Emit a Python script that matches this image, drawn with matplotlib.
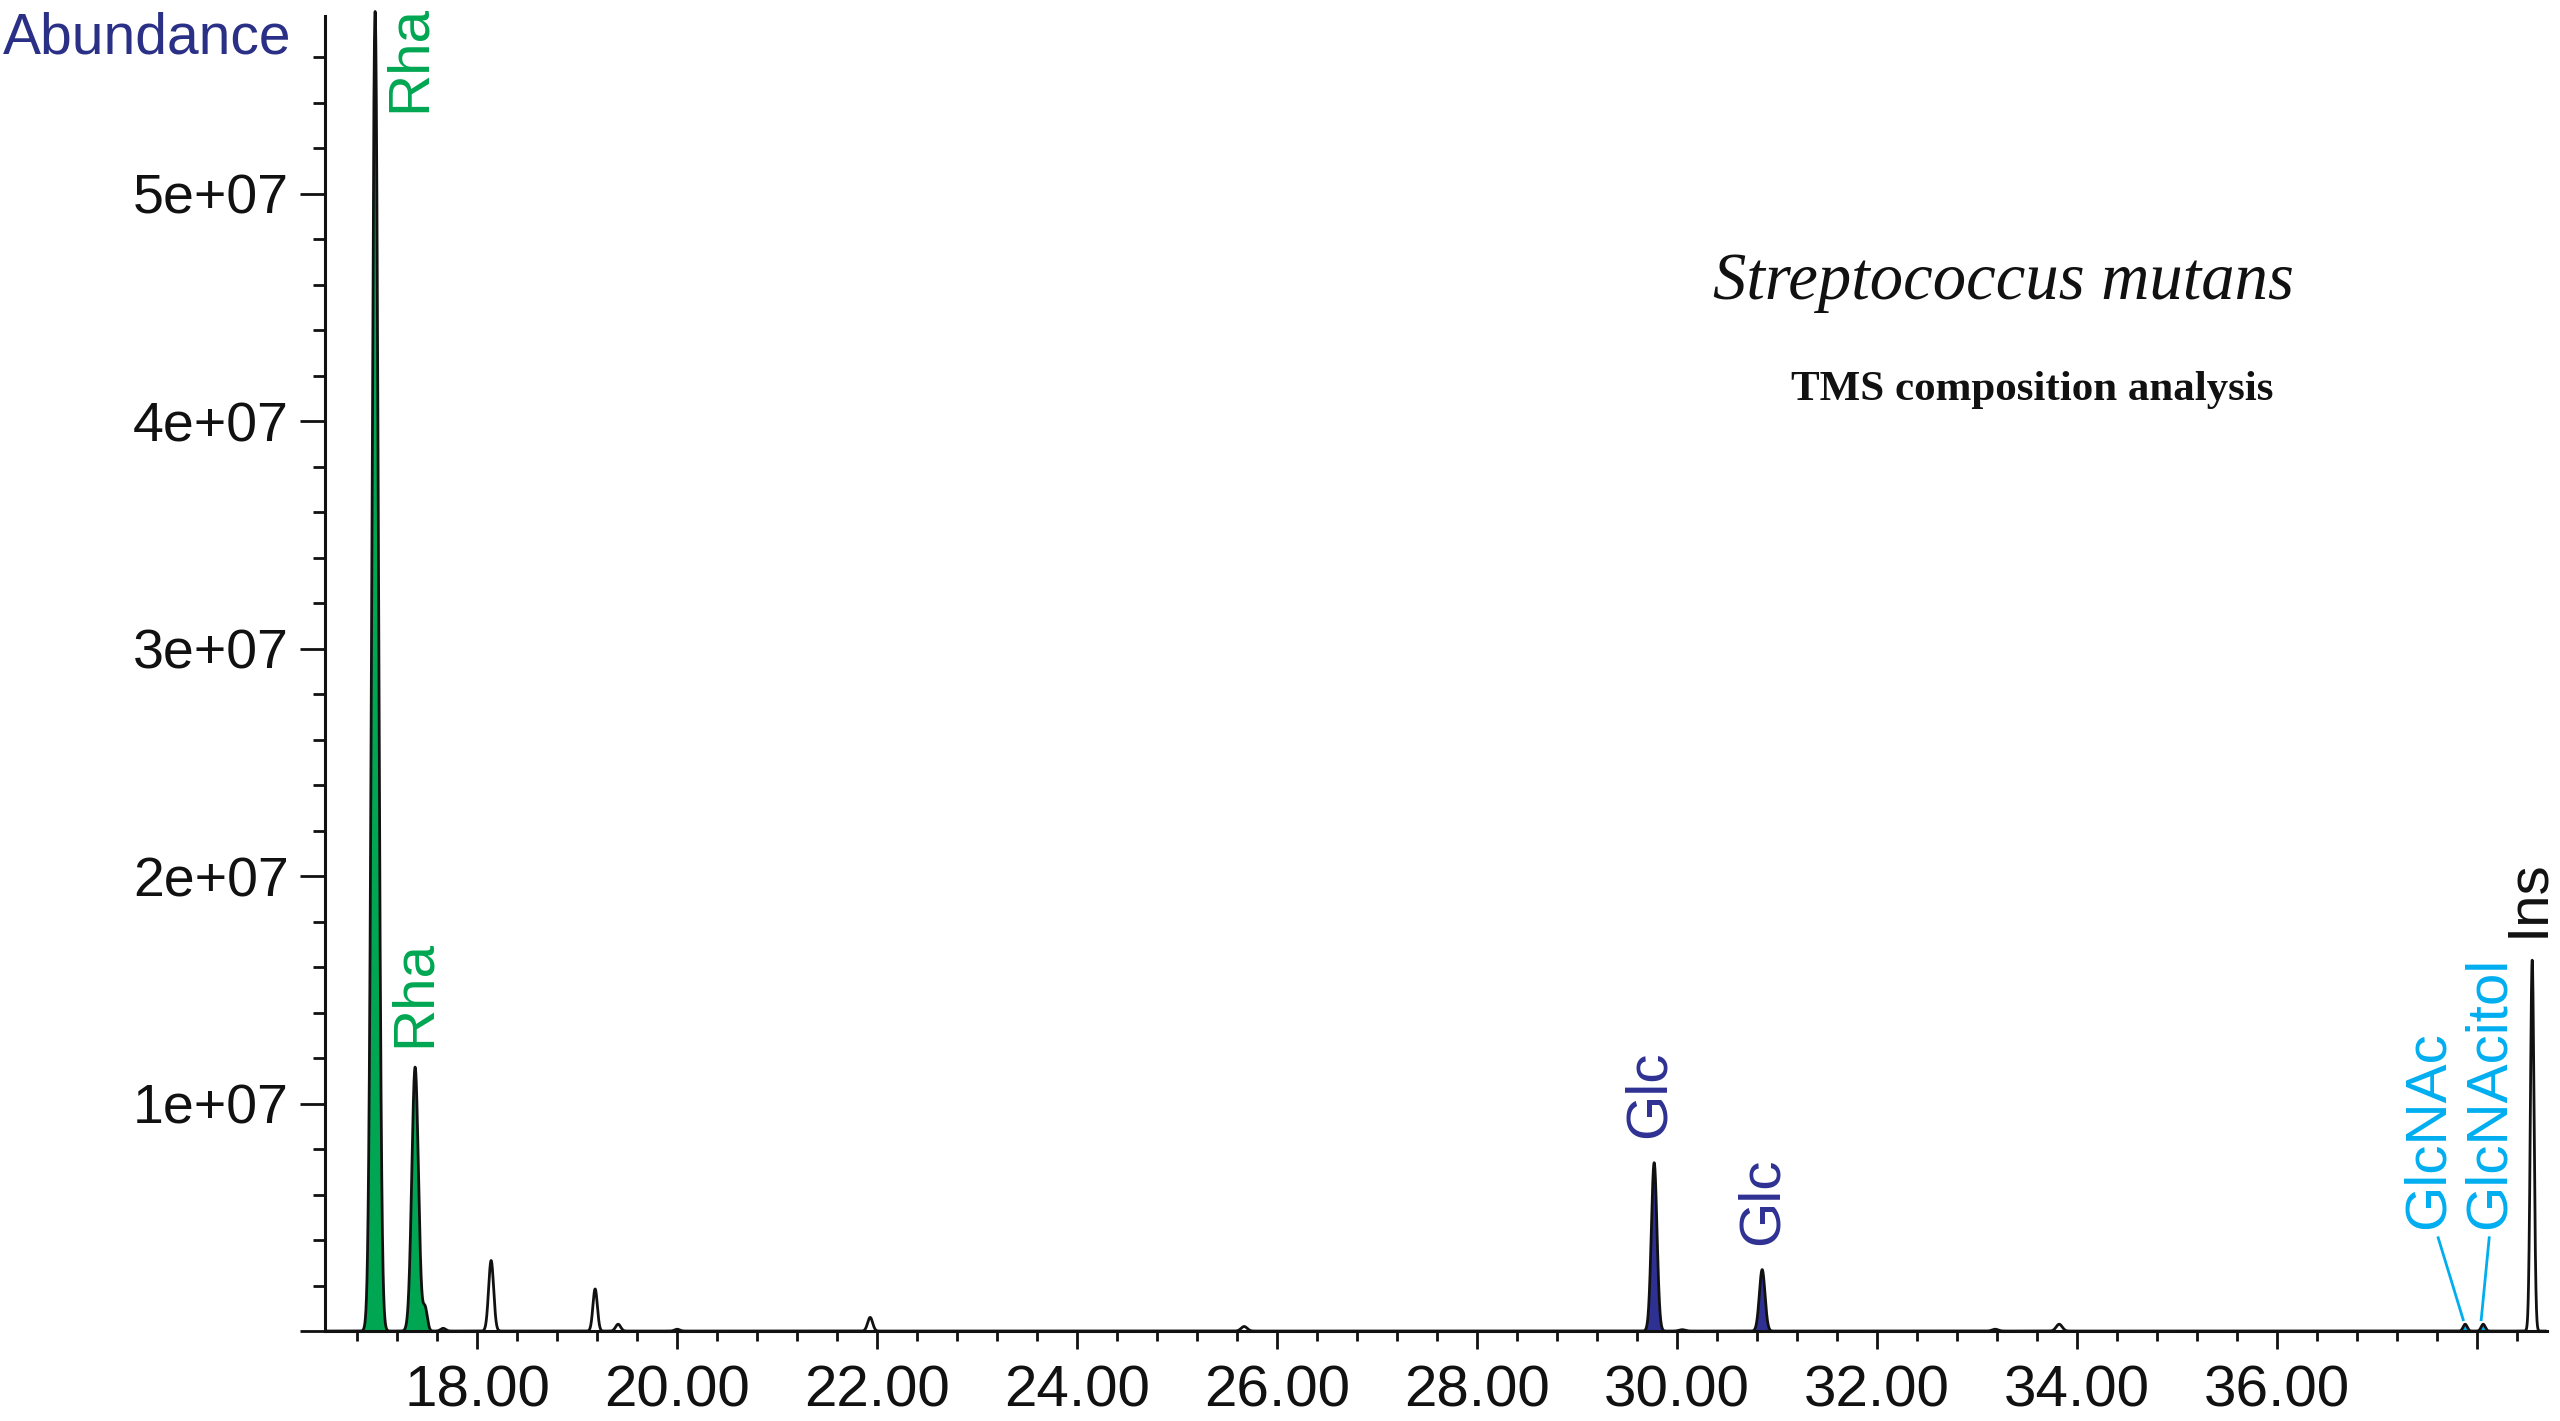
import matplotlib
matplotlib.use('Agg')
import matplotlib.pyplot as plt
import numpy as np
from matplotlib.ticker import MultipleLocator, FixedLocator

plt.rcParams['font.family'] = ['Liberation Sans', 'DejaVu Sans']

# peak table: retention time (min), abundance, peak sigma (min)
peak_rt = [16.98, 17.38, 17.48, 17.66, 18.14, 19.18, 19.41, 20.00, 21.93,
           25.67, 29.77, 30.05, 30.85, 33.18, 33.82, 37.88, 38.06, 38.55]
peak_height = [5.8e7, 1.16e7, 1.0e6, 1.2e5, 3.1e6, 1.85e6, 3.0e5, 8.0e4, 6.0e5,
               2.0e5, 7.4e6, 6.0e4, 2.7e6, 8.0e4, 3.0e5, 3.0e5, 3.0e5, 1.63e7]
peak_sigma = [0.032, 0.033, 0.022, 0.025, 0.025, 0.022, 0.025, 0.025, 0.025,
              0.030, 0.028, 0.030, 0.028, 0.030, 0.030, 0.020, 0.020, 0.018]

# filled (identified) peaks: start, end of shaded area, colour
fill_start = [16.84, 17.26, 29.66, 30.74, 37.82, 38.00]
fill_end = [17.12, 17.58, 29.88, 30.96, 37.94, 38.12]
fill_color = ['#00a651', '#00a651', '#2e3192', '#2e3192', '#00aeef', '#00aeef']

# peak annotations
label_text = ['Rha', 'Rha', 'Glc', 'Glc', 'GlcNAc', 'GlcNAcitol', 'Ins']
label_x = [17.33, 17.38, 29.72, 30.85, 37.51, 38.12, 38.51]
label_y = [5.36e7, 1.25e7, 0.85e7, 0.38e7, 0.45e7, 0.45e7, 1.73e7]
label_color = ['#00a651', '#00a651', '#2e3192', '#2e3192', '#00aeef', '#00aeef', '#111111']

# leader lines for the small GlcNAc peaks
leader_x = [[37.61, 37.86], [38.12, 38.04]]
leader_y = [[0.41e7, 0.05e7], [0.41e7, 0.05e7]]

x_major = [18, 20, 22, 24, 26, 28, 30, 32, 34, 36, 38]
x_labels = ['18.00', '20.00', '22.00', '24.00', '26.00', '28.00', '30.00',
            '32.00', '34.00', '36.00', '']
y_major = [0, 1e7, 2e7, 3e7, 4e7, 5e7]
y_labels = ['', '1e+07', '2e+07', '3e+07', '4e+07', '5e+07']

xmin, xmax = 16.48, 38.70
ymin, ymax = 0, 5.78e7

fig = plt.figure(figsize=(25.6, 14.21), dpi=100)
ax = fig.add_axes([0.127, 0.0633, 0.8680, 0.9254])

t = np.linspace(16.5, 38.68, 30000)
trace = np.zeros_like(t)
for rt, h, s in zip(peak_rt, peak_height, peak_sigma):
    trace += h * np.exp(-0.5 * ((t - rt) / s) ** 2)

for a, b, c in zip(fill_start, fill_end, fill_color):
    m = (t >= a) & (t <= b)
    ax.fill_between(t[m], 0, trace[m], color=c, lw=0, clip_on=False)

ax.plot(t, trace, color='#111111', lw=2.0, clip_on=False, zorder=3)

for txt, x, y, c in zip(label_text, label_x, label_y, label_color):
    ax.text(x, y, txt, rotation=90, ha='center', va='bottom', color=c,
            fontsize=42)

for lx, ly in zip(leader_x, leader_y):
    ax.plot(lx, ly, color='#00aeef', lw=2.0)

ax.set_xlim(xmin, xmax)
ax.set_ylim(ymin, ymax)
for s in ['top', 'right']:
    ax.spines[s].set_visible(False)
for s in ['left', 'bottom']:
    ax.spines[s].set_linewidth(2.2)
    ax.spines[s].set_color('#111111')

ax.xaxis.set_major_locator(FixedLocator(x_major))
ax.set_xticklabels(x_labels)
ax.xaxis.set_minor_locator(MultipleLocator(0.4))
ax.yaxis.set_major_locator(FixedLocator(y_major))
ax.set_yticklabels(y_labels)
ax.yaxis.set_minor_locator(MultipleLocator(2e6))

ax.tick_params(axis='x', which='major', length=13, width=2.0, labelsize=42,
               pad=11, color='#111111', labelcolor='#111111')
ax.tick_params(axis='x', which='minor', length=7, width=2.0, color='#111111')
ax.tick_params(axis='y', which='major', length=18, width=2.0, labelsize=40,
               pad=8, color='#111111', labelcolor='#111111')
ax.tick_params(axis='y', which='minor', length=8.5, width=2.0, color='#111111')

fig.text(0.001, (1421 - 54) / 1421, 'Abundance', ha='left', va='baseline',
         fontsize=41, color='#2b3087')

fig.text(0.7824, (1421 - 299) / 1421, 'Streptococcus mutans', ha='center',
         va='baseline', fontsize=48, style='italic',
         family=['Liberation Serif', 'DejaVu Serif'], color='#111111')
fig.text(0.794, (1421 - 400) / 1421, 'TMS composition analysis', ha='center',
         va='baseline', fontsize=31, weight='bold',
         family=['Liberation Serif', 'DejaVu Serif'], color='#111111')

fig.savefig('out.png', dpi=100, facecolor='white')
